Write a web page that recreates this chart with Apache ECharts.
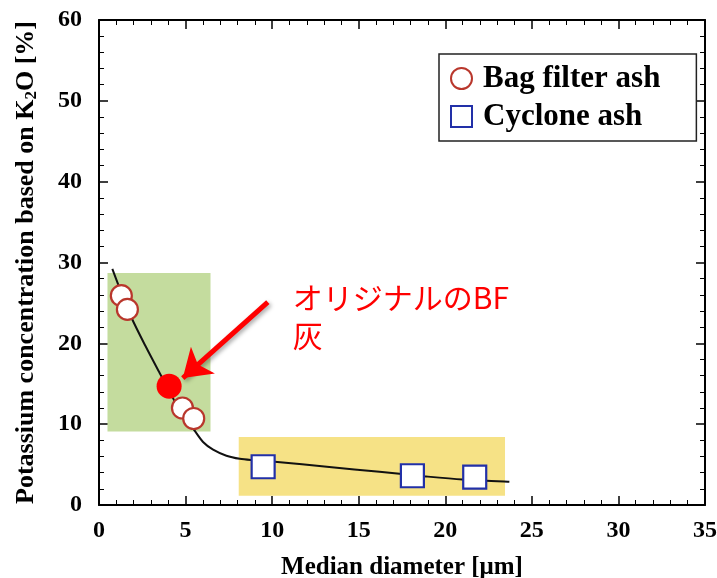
<!DOCTYPE html>
<html>
<head>
<meta charset="utf-8">
<script src="https://cdn.jsdelivr.net/npm/echarts@6/dist/echarts.min.js"></script>
<style>
html,body{margin:0;padding:0;background:#fff;}
#chart{width:717px;height:578px;}
</style>
</head>
<body>
<div id="chart"></div>
<script>
// ---- data ----
const xTicks = [0, 5, 10, 15, 20, 25, 30, 35];
const yTicks = [0, 10, 20, 30, 40, 50, 60];
const bagFilterX = [1.29, 1.64, 4.82, 5.47];
const bagFilterY = [25.9, 24.2, 12.0, 10.7];
const originalBFX = [4.05];
const originalBFY = [14.7];
const cycloneX = [9.48, 18.1, 21.7];
const cycloneY = [4.73, 3.62, 3.46];
const curveX = [0.77, 1.3, 1.87, 2.7, 3.51, 4.04, 4.56, 5.49, 6.01, 6.59, 7.36, 8.13, 8.9, 10.15, 13.3, 16.2, 18.8, 21.0, 23.7];
const curveY = [29.2, 26.2, 23.2, 19.6, 16.3, 14.2, 12.1, 9.3, 7.8, 6.85, 6.1, 5.72, 5.55, 5.35, 4.7, 4.1, 3.55, 3.15, 2.88];
const greenBox = [[0.49, 28.7], [6.44, 9.1]];
const yellowBox = [[8.07, 8.4], [23.45, 1.15]];
const arrowFrom = [9.75, 25.1];
const arrowTo = [4.84, 15.7];
const noteAt = [11.19, 27.96];
const noteText = 'オリジナルのBF\n灰';
const legendNames = ['Bag filter ash', 'Cyclone ash'];

const zip = (a, b) => a.map((v, i) => [v, b[i]]);
const serif = '"Liberation Serif", "Times New Roman", serif';

const tickLabel = {fontFamily: serif, fontWeight: 'bold', fontSize: 24, color: '#000'};
const axLine = {lineStyle: {color: '#000', width: 2}};

function xAx(pos, labels) {
  return {
    type: 'value', position: pos, min: xTicks[0], max: xTicks[xTicks.length - 1], interval: 5,
    axisLine: {show: true, onZero: false, ...axLine},
    axisTick: {show: true, inside: true, length: 9, lineStyle: {color: '#000', width: 1.5}},
    minorTick: {show: true, splitNumber: 5, length: 5, lineStyle: {color: '#000', width: 1}},
    splitLine: {show: false},
    axisLabel: labels ? {...tickLabel, margin: 14} : {show: false},
    name: labels ? 'Median diameter [μm]' : '',
    nameLocation: 'middle', nameGap: 50,
    nameTextStyle: {fontFamily: serif, fontWeight: 'bold', fontSize: 25, color: '#000'}
  };
}
function yAx(pos, labels) {
  return {
    type: 'value', position: pos, min: yTicks[0], max: yTicks[yTicks.length - 1], interval: 10,
    axisLine: {show: true, onZero: false, ...axLine},
    axisTick: {show: true, inside: true, length: 9, lineStyle: {color: '#000', width: 1.5}},
    minorTick: {show: true, splitNumber: 5, length: 5, lineStyle: {color: '#000', width: 1}},
    splitLine: {show: false},
    axisLabel: labels ? {...tickLabel, margin: 17} : {show: false},
    name: labels ? 'Potassium concentration based on K{sub|2}O [%]' : '',
    nameLocation: 'middle', nameGap: 59, nameRotate: 90,
    nameTextStyle: {
      fontFamily: serif, fontWeight: 'bold', fontSize: 26, color: '#000',
      rich: {sub: {fontFamily: serif, fontWeight: 'bold', fontSize: 17, color: '#000', padding: [10, 0, 0, 0]}}
    }
  };
}

const chart = echarts.init(document.getElementById('chart'), null, {renderer: 'canvas'});
chart.setOption({
  animation: false,
  backgroundColor: '#fff',
  grid: {left: 99, right: 12, top: 20, bottom: 73, containLabel: false, outerBoundsMode: 'none'},
  xAxis: [xAx('bottom', true), xAx('top', false)],
  yAxis: [yAx('left', true), yAx('right', false)],
  legend: {
    data: legendNames,
    orient: 'vertical',
    left: 439, top: 54,
    padding: [9, 36, 9, 11],
    itemGap: 7,
    itemWidth: 21, itemHeight: 21,
    borderColor: '#222', borderWidth: 1.5, borderRadius: 0,
    backgroundColor: '#fff',
    textStyle: {fontFamily: serif, fontWeight: 'bold', fontSize: 31, lineHeight: 31, color: '#000', padding: [0, 0, 0, 6]}
  },
  series: [
    {
      name: 'regions', type: 'line', data: [], silent: true,
      markArea: {
        silent: true,
        data: [
          [{coord: greenBox[0], itemStyle: {color: '#c4dc9e'}}, {coord: greenBox[1]}],
          [{coord: yellowBox[0], itemStyle: {color: '#f6e286'}}, {coord: yellowBox[1]}]
        ]
      }
    },
    {
      name: 'curve', type: 'line', data: zip(curveX, curveY), smooth: 0.3,
      showSymbol: false, symbol: 'none', silent: true,
      lineStyle: {color: '#111', width: 2}
    },
    {
      name: 'Bag filter ash', type: 'scatter', data: zip(bagFilterX, bagFilterY),
      symbol: 'circle', symbolSize: 21,
      itemStyle: {color: '#fff', borderColor: '#b9372c', borderWidth: 2.2, opacity: 1},
      z: 3
    },
    {
      name: 'Original BF', type: 'scatter', data: zip(originalBFX, originalBFY),
      symbol: 'circle', symbolSize: 25,
      itemStyle: {color: '#ff0000', borderColor: '#ff0000', borderWidth: 0, opacity: 1},
      z: 4,
      markLine: {
        silent: true, symbol: ['none', 'arrow'], symbolSize: 27,
        label: {show: false},
        itemStyle: {color: '#ff0000', opacity: 1},
        lineStyle: {color: '#ff0000', width: 5, type: 'solid', opacity: 1,
          shadowBlur: 4, shadowColor: 'rgba(0,0,0,0.35)', shadowOffsetX: 2, shadowOffsetY: 2},
        data: [[{coord: arrowFrom}, {coord: arrowTo}]]
      },
      markPoint: {
        silent: true, symbol: 'circle', symbolSize: 0,
        label: {
          show: true, position: [0, 0], align: 'left', verticalAlign: 'top',
          formatter: noteText,
          fontFamily: '"Noto Sans CJK JP", sans-serif', fontSize: 30, lineHeight: 38, color: '#ff0000'
        },
        data: [{coord: noteAt}]
      }
    },
    {
      name: 'Cyclone ash', type: 'scatter', data: zip(cycloneX, cycloneY),
      symbol: 'rect', symbolSize: 23,
      itemStyle: {color: '#fff', borderColor: '#2230a8', borderWidth: 2.2, opacity: 1},
      z: 3
    }
  ]
});
</script>
</body>
</html>
